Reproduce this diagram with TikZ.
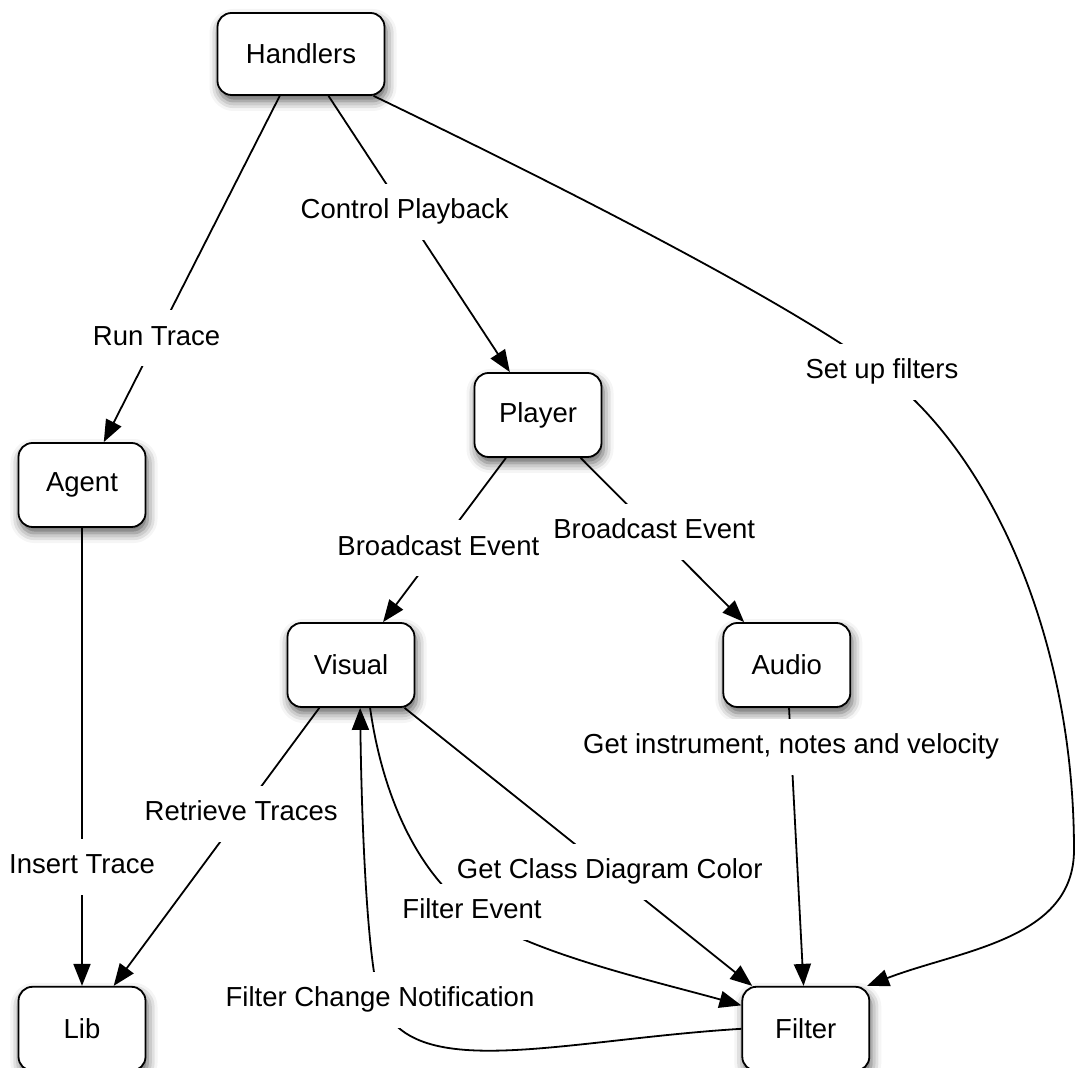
\documentclass[tikz,border=0pt]{standalone}
\usepackage{fontspec}
\setmainfont{Liberation Sans}
\usetikzlibrary{arrows.meta,positioning,shadows.blur}

\tikzset{
  comp/.style={draw, line width=0.9pt, rounded corners=7pt, fill=white,
    minimum width=63.5pt, minimum height=42pt,
    blur shadow={shadow xshift=1pt, shadow yshift=-3pt, shadow blur radius=5pt, shadow opacity=65}},
  lbl/.style={fill=white, inner xsep=3pt, inner ysep=7.5pt, text height=10pt, text depth=3pt},
  arr/.style={line width=0.9pt, -{Triangle[length=11pt,width=8.5pt]}}
}

\begin{document}
\begin{tikzpicture}[x=0.5pt, y=-0.5pt, every node/.style={font=\fontsize{13.75}{16}\selectfont}]
\useasboundingbox (0,0) rectangle (1078,1068);

\node[comp, minimum width=83.5pt, minimum height=41pt] (handlers) at (301,54) {Handlers};
\node[comp] (player) at (538,415) {Player};
\node[comp] (agent) at (82,485) {Agent};
\node[comp] (visual) at (351,665) {Visual};
\node[comp, right=153.5pt of visual] (audio) {Audio};
\node[comp, below=229pt of agent] (lib) {Lib};
\node[comp, right=297.5pt of lib] (filter) {Filter};

% straight calls
\draw[arr] (handlers) -- node[lbl, pos=0.7] {Run Trace} (agent);
\draw[arr] (handlers) -- node[lbl, pos=0.42] {Control Playback} (player);
\draw[arr] (player) -- node[lbl, pos=0.55] {Broadcast Event} (visual);
\draw[arr] (player) -- node[lbl, pos=0.45] {Broadcast Event} (audio);
\draw[arr] (agent) -- node[lbl, pos=0.74] {Insert Trace} (lib);
\draw[arr] (visual) -- node[lbl, pos=0.38] {Retrieve Traces} (lib);
\draw[arr] (visual) -- node[lbl, pos=0.59] {Get Class Diagram Color} (filter);
\draw[arr] (audio) -- node[lbl, pos=0.14] {Get instrument, notes and velocity} (filter);

% curved ones
\draw[arr] (handlers.-30) .. controls (600,205) and (800,310) .. (882,372) node[lbl] {Set up filters}
  .. controls (992,455) and (1074,640) .. (1074,850)
  .. controls (1074,940) and (960,950) .. (filter.35);
\draw[arr] (visual.-66) .. controls (383,800) and (420,875) .. (472,912) node[lbl] {Filter Event}
  .. controls (530,953) and (650,980) .. (filter.160);
\draw[arr] (filter.west) .. controls (560,1040) and (410,1085) .. (380,1000) node[lbl] {Filter Change Notification}
  .. controls (369,969) and (362,850) .. (visual.-78);
\end{tikzpicture}
\end{document}
